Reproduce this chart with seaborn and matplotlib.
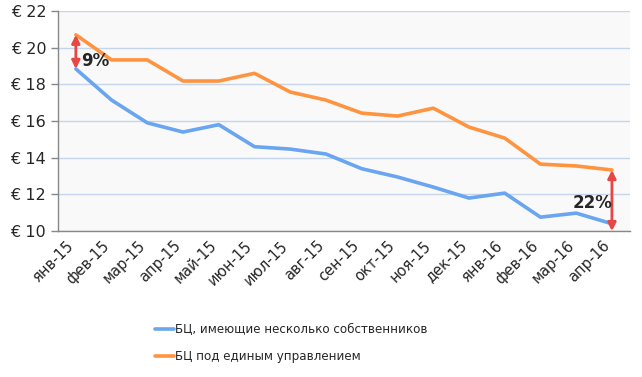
import numpy as np
import pandas as pd
import seaborn as sns
import matplotlib.transforms as mtransforms
from matplotlib import pyplot as plt

months = ["янв-15", "фев-15", "мар-15", "апр-15", "май-15", "июн-15", "июл-15", "авг-15",
          "сен-15", "окт-15", "ноя-15", "дек-15", "янв-16", "фев-16", "мар-16", "апр-16"]
several_owners = [18.84, 17.14, 15.9, 15.4, 15.8, 14.6, 14.47, 14.2,
                  13.4, 12.95, 12.4, 11.8, 12.07, 10.76, 10.98, 10.4]
single_mgmt = [20.7, 19.33, 19.33, 18.18, 18.18, 18.6, 17.58, 17.14,
               16.43, 16.27, 16.7, 15.67, 15.07, 13.65, 13.55, 13.33]
series_names = ["БЦ, имеющие несколько собственников", "БЦ под единым управлением"]

df = pd.DataFrame({
    "month": months * 2,
    "x": list(range(len(months))) * 2,
    "value": several_owners + single_mgmt,
    "series": [series_names[0]] * len(months) + [series_names[1]] * len(months),
})

sns.set_style("white")
plt.rcParams['font.family'] = ['DejaVu Sans']

fig = plt.figure(figsize=(6.42, 3.77), dpi=100)
ax = fig.add_axes([0.0903, 0.387, 0.8907, 0.584])
ax.set_facecolor("#f9f9f9")

sns.lineplot(data=df, x="x", y="value", hue="series", palette=["#6aa5f0", "#ff9440"],
             linewidth=2.6, ax=ax, legend=True)

ax.set_xlim(-0.5, len(months) - 0.5)
ax.set_ylim(10, 22)
ax.set_yticks(np.arange(10, 23, 2))
ax.set_yticklabels([f"€ {v}" for v in range(10, 23, 2)], fontsize=11.5)
ax.yaxis.grid(True, color="#c5d5ea", linewidth=1)
ax.set_axisbelow(True)

ax.set_xticks(np.arange(len(months)))
ax.set_xticklabels(months, rotation=45, ha="right", rotation_mode="anchor", fontsize=10.5)
ax.tick_params(axis="x", length=0, pad=5)
shift = mtransforms.ScaledTranslation(-10 / 100, 0, fig.dpi_scale_trans)
for lbl in ax.get_xticklabels():
    lbl.set_transform(lbl.get_transform() + shift)
ax.set_xticks(np.arange(-0.5, len(months)), minor=True)
ax.tick_params(axis="x", which="minor", length=5, color="#888888", width=1)
ax.tick_params(axis="y", length=5, color="#888888", width=1, left=True)
ax.set_xlabel("")
ax.set_ylabel("")

for side in ["top", "right"]:
    ax.spines[side].set_visible(False)
for side in ["left", "bottom"]:
    ax.spines[side].set_color("#888888")
    ax.spines[side].set_linewidth(1)

arrow_kw = dict(arrowstyle="<|-|>", color="#e84545", lw=2, mutation_scale=12, shrinkA=0, shrinkB=0)
ax.annotate("", xy=(0, single_mgmt[0]), xytext=(0, several_owners[0]), arrowprops=arrow_kw)
ax.text(0.15, 19.25, "9%", fontsize=12, fontweight="bold", ha="left", va="center")
last = len(months) - 1
ax.annotate("", xy=(last, single_mgmt[-1]), xytext=(last, 10), arrowprops=arrow_kw)
ax.text(last + 0.02, 11.55, "22%", fontsize=12, fontweight="bold", ha="right", va="center")

handles, labels = ax.get_legend_handles_labels()
ax.get_legend().remove()
fig.legend(handles, labels, loc="upper left", bbox_to_anchor=(155 / 642, 1 - 323 / 377), frameon=False,
           fontsize=8.6, handlelength=1.6, handletextpad=0.05, labelspacing=1.15,
           borderpad=0, borderaxespad=0)

fig.savefig("out.png", dpi=100)
